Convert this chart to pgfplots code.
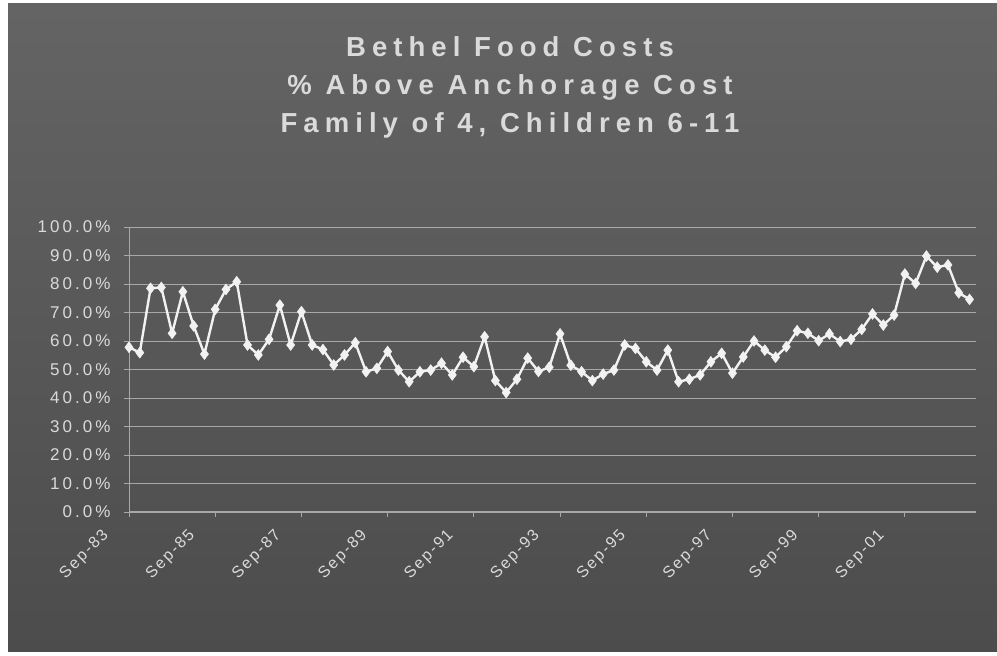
\documentclass[border=0pt]{standalone}
\usepackage{pgfplots}
\pgfplotsset{compat=1.18}
\usepackage{fontspec}
\setmainfont{Liberation Sans}
\newfontfamily\titlefont[LetterSpace=22]{Liberation Sans}
\newfontfamily\ylabfont[LetterSpace=18]{Liberation Sans}
\newfontfamily\xlabfont[LetterSpace=12]{Liberation Sans}
\definecolor{bgtop}{HTML}{646464}
\definecolor{bgbot}{HTML}{4C4C4C}
\definecolor{gridc}{HTML}{A8A8A8}
\definecolor{linec}{HTML}{F2F2F2}
\definecolor{textc}{HTML}{DADADA}
\pgfplotstableread{
i v
0 57.8
1 55.9
2 78.5
3 78.8
4 62.7
5 77.3
6 65.3
7 55.4
8 71.1
9 78.1
10 80.8
11 58.6
12 55.1
13 60.6
14 72.6
15 58.6
16 70.3
17 58.6
18 57.0
19 51.6
20 55.1
21 59.4
22 49.2
23 50.4
24 56.3
25 49.8
26 45.7
27 49.2
28 49.8
29 52.2
30 48.1
31 54.3
32 51.0
33 61.5
34 46.1
35 41.9
36 46.6
37 54.0
38 49.3
39 50.8
40 62.5
41 51.5
42 49.2
43 46.1
44 48.4
45 49.8
46 58.6
47 57.4
48 52.7
49 49.8
50 56.8
51 45.7
52 46.6
53 48.1
54 52.7
55 55.7
56 48.7
57 54.4
58 60.0
59 56.8
60 54.3
61 58.0
62 63.6
63 62.7
64 60.1
65 62.5
66 59.8
67 60.6
68 64.1
69 69.5
70 65.6
71 69.1
72 83.5
73 80.2
74 89.8
75 85.9
76 86.7
77 76.9
78 74.6
}\costdata
\begin{document}
\begin{tikzpicture}
\useasboundingbox (0,0) rectangle (997pt,656pt);
\fill[white] (0,0) rectangle (997pt,656pt);
\shade[top color=bgtop, bottom color=bgbot] (8pt,4pt) rectangle (997pt,652pt);
\node[align=center, text=textc, font=\titlefont\bfseries\fontsize{27.5}{38}\selectfont] at (510pt,569pt)
  {Bethel Food Costs\\\% Above Anchorage Cost\\Family of 4, Children 6-11};
\begin{axis}[
  at={(129pt,144pt)}, anchor=south west,
  scale only axis, width=847pt, height=285pt,
  xmin=0, xmax=78.6, ymin=0, ymax=100,
  axis lines*=left,
  axis line style={draw=gridc, line width=1pt},
  ymajorgrids,
  grid style={draw=gridc, line width=0.8pt},
  tick style={draw=gridc, line width=0.8pt},
  major tick length=5pt, tick align=outside,
  ytick={0,10,...,100},
  yticklabels={0.0\%,10.0\%,20.0\%,30.0\%,40.0\%,50.0\%,60.0\%,70.0\%,80.0\%,90.0\%,100.0\%},
  yticklabel style={text=textc, font=\ylabfont\fontsize{17}{20}\selectfont, anchor=east, xshift=-10pt},
  xtick={0,8,...,72},
  xticklabels={Sep-83,Sep-85,Sep-87,Sep-89,Sep-91,Sep-93,Sep-95,Sep-97,Sep-99,Sep-01},
  xticklabel style={text=textc, font=\xlabfont\fontsize{16}{19}\selectfont, xshift=-28pt, yshift=-6pt, rotate=45, anchor=north east},
  clip=false,
]
\addplot[color=linec, line width=2.4pt, mark=diamond*, mark size=5.5pt,
  mark options={fill=linec, draw=linec, line width=0.4pt}] table[x=i, y=v] {\costdata};
\end{axis}
\end{tikzpicture}
\end{document}
